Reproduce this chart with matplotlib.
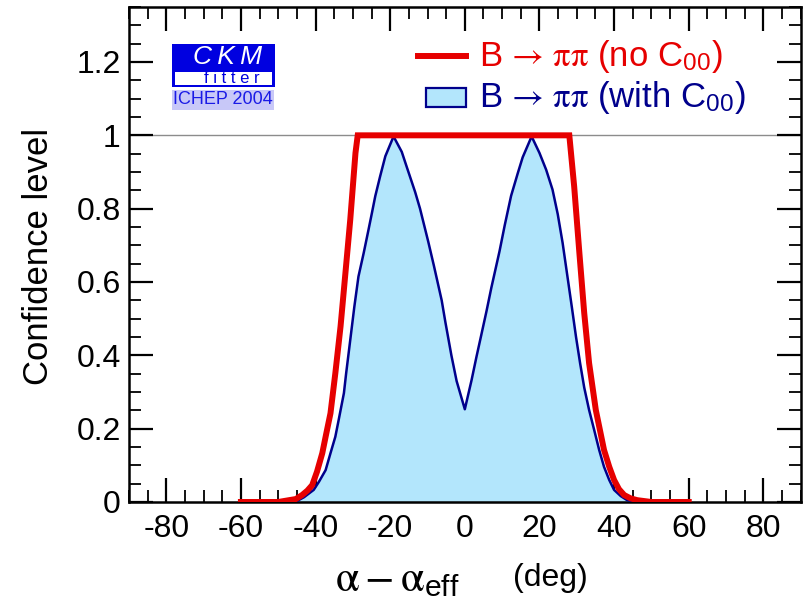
import matplotlib
matplotlib.use("Agg")
import matplotlib.pyplot as plt
from matplotlib.patches import Rectangle
from matplotlib.lines import Line2D
from matplotlib.ticker import MultipleLocator, FuncFormatter

plt.rcParams["font.family"] = ["Liberation Sans", "DejaVu Sans"]
plt.rcParams["mathtext.fontset"] = "custom"
plt.rcParams["mathtext.rm"] = "STIXGeneral"
plt.rcParams["mathtext.it"] = "STIXGeneral:italic"
plt.rcParams["mathtext.sf"] = "Liberation Sans"

# CL scan without C00 (red) -- flat plateau between the two edges
red_x = [-60, -50, -47.1, -45.3, -43.6, -42.2, -40.9, -39.6, -38.2, -37.2, -36.0,
         -34.7, -33.3, -32.0, -30.7, -29.3, -28.7, 0.0, 28.0, 29.3, 30.7, 32.0,
         33.3, 35.1, 37.3, 38.7, 40.0, 41.3, 42.7, 44.4, 46.2, 50, 60]
red_y = [0.0, 0.0, 0.005, 0.008, 0.019, 0.031, 0.046, 0.083, 0.133, 0.183, 0.242,
         0.351, 0.479, 0.624, 0.770, 0.952, 1.0, 1.0, 1.0, 0.861, 0.679, 0.515,
         0.379, 0.251, 0.142, 0.096, 0.060, 0.035, 0.019, 0.010, 0.005, 0.0, 0.0]

# CL scan with C00 (blue, filled) -- two peaks and a dip at 0
blue_x = [-48, -45.3, -43.1, -40.5, -39.1, -37.3, -36.0, -34.7, -33.8, -32.4, -31.8,
          -30.7, -29.6, -28.5, -27.1, -25.8, -24.9, -24.0, -22.7, -21.3, -19.1,
          -16.9, -15.6, -13.3, -12.0, -9.8, -8.3, -6.2, -5.2, -3.6, -2.2, 0.0,
          1.8, 3.1, 4.4, 5.8, 7.1, 9.3, 10.7, 12.4, 14.2, 15.5, 17.9, 20.0, 21.8,
          23.5, 24.9, 26.2, 27.5, 28.7, 29.8, 30.9, 32.0, 33.3, 34.7, 36.0, 37.3,
          38.7, 40.0, 41.8, 43.5, 47]
blue_y = [0.0, 0.001, 0.013, 0.033, 0.055, 0.087, 0.133, 0.178, 0.224, 0.297, 0.351,
          0.442, 0.533, 0.615, 0.679, 0.743, 0.788, 0.834, 0.888, 0.943, 0.997,
          0.955, 0.915, 0.845, 0.800, 0.710, 0.645, 0.550, 0.490, 0.400, 0.330, 0.253,
          0.332, 0.395, 0.455, 0.520, 0.584, 0.684, 0.755, 0.835, 0.897, 0.940, 0.997,
          0.952, 0.906, 0.852, 0.785, 0.707, 0.615, 0.530, 0.450, 0.378, 0.312, 0.251,
          0.195, 0.142, 0.096, 0.060, 0.033, 0.016, 0.005, 0.0]

RED = "#e60000"
NAVY = "#00008c"
FILL = "#b3e6fc"

fig = plt.figure(figsize=(8.06, 6.03), dpi=100)
ax = fig.add_axes([0.160, 0.1675, 0.8334, 0.8209])

ax.axhline(1.0, color="#8c8c8c", lw=1.0, zorder=1)
ax.fill_between(blue_x, blue_y, 0, color=FILL, lw=0, zorder=2)
ax.plot(blue_x, blue_y, color=NAVY, lw=1.8, zorder=3)
ax.plot(red_x, red_y, color=RED, lw=4.3, zorder=4, solid_joinstyle="miter")

ax.set_xlim(-90, 90)
ax.set_ylim(0, 1.35)
ax.xaxis.set_major_locator(MultipleLocator(20))
ax.xaxis.set_minor_locator(MultipleLocator(5))
ax.yaxis.set_major_locator(MultipleLocator(0.2))
ax.yaxis.set_minor_locator(MultipleLocator(0.05))
ax.yaxis.set_major_formatter(FuncFormatter(lambda v, p: "%g" % round(v, 2)))
ax.xaxis.set_major_formatter(FuncFormatter(lambda v, p: "%d" % v))
ax.tick_params(which="both", direction="in", top=True, right=True,
               labelsize=23)
ax.tick_params(axis="x", pad=9)
ax.tick_params(axis="y", pad=6)
ax.tick_params(which="major", length=17, width=1.6)
ax.tick_params(which="minor", length=8.5, width=1.3)
for sp in ax.spines.values():
    sp.set_linewidth(1.8)

fig.text(39 / 806, 1 - 256 / 603, "Confidence level", rotation=90,
         ha="center", va="center", fontsize=25)
# x label: greek part in a bigger symbol font, unit in plain text
fig.text(397 / 806, 1 - 580 / 603,
         r"$\mathrm{\alpha} - \mathrm{\alpha}_{\mathsf{eff}}$",
         ha="center", va="center", fontsize=31)
fig.text(550 / 806, 1 - 578 / 603, "(deg)",
         ha="center", va="center", fontsize=23)

# legend, drawn by hand
ax.add_line(Line2D([-12.5, 0.4], [1.215, 1.215], color=RED, lw=4.3))
ax.add_patch(Rectangle((-10.5, 1.078), 10.9, 0.052, facecolor=FILL,
                       edgecolor=NAVY, lw=1.6))
ax.text(3.8, 1.215, r"$\mathsf{B}\,\rightarrow\,\mathrm{\pi\pi}$ (no C$_{\mathsf{00}}$)",
        color=RED, fontsize=25, va="center", ha="left")
ax.text(3.8, 1.104, r"$\mathsf{B}\,\rightarrow\,\mathrm{\pi\pi}$ (with C$_{\mathsf{00}}$)",
        color=NAVY, fontsize=25, va="center", ha="left")

# CKMfitter logo
ax.add_patch(Rectangle((-78.4, 1.131), 27.5, 0.119, facecolor="#0000e0", lw=0))
ax.add_patch(Rectangle((-77.6, 1.136), 26.0, 0.037, facecolor="white", lw=0))
ax.add_patch(Rectangle((-78.4, 1.070), 27.2, 0.053, facecolor="#c8c8f8", lw=0))
ax.text(-63.5, 1.213, "C\u2009K\u2009M", color="white", fontsize=19, style="italic",
        ha="center", va="center")
ax.text(-62.5, 1.154, "f i t t e r", color="#0000e0", fontsize=12,
        ha="center", va="center")
ax.text(-64.9, 1.097, "ICHEP 2004", color="#1a1ae6", fontsize=13,
        ha="center", va="center")

fig.savefig("out.png", dpi=100)
